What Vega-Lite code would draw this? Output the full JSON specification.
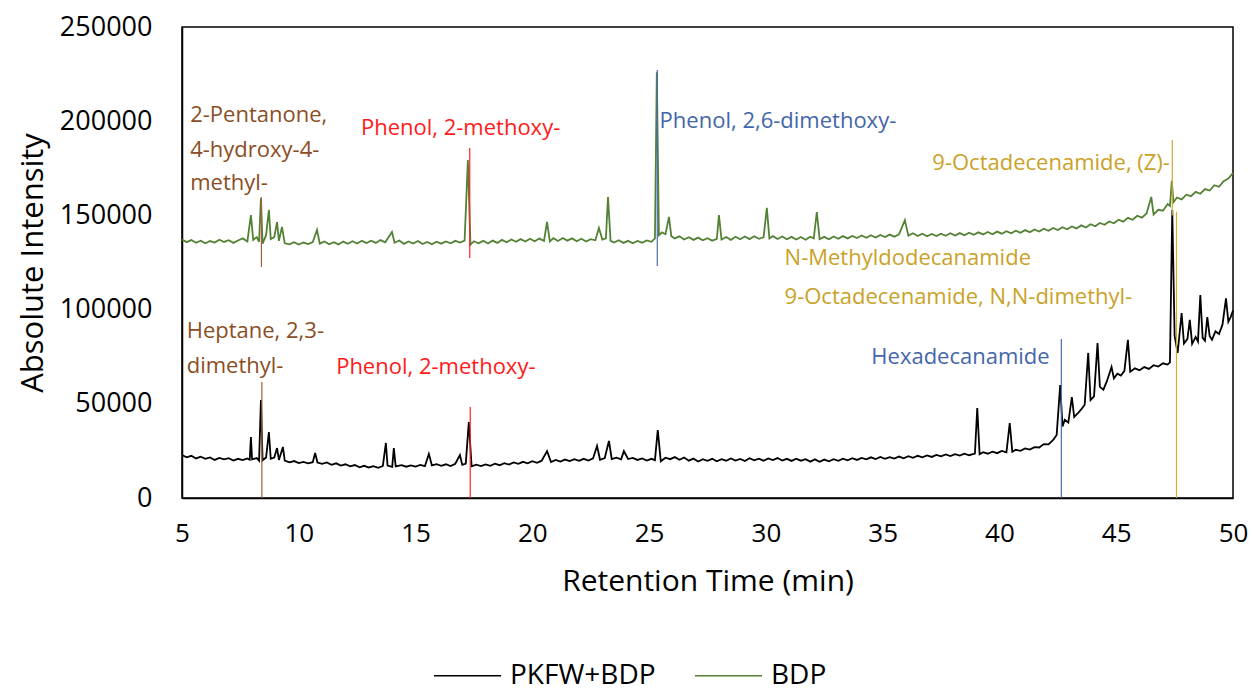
{
  "$schema": "https://vega.github.io/schema/vega-lite/v6.json",
  "width": 1051,
  "height": 471,
  "autosize": {"type": "none"},
  "padding": {"left": 182, "top": 27, "right": 19, "bottom": 195},
  "background": "white",
  "config": {
    "font": "Open Sans",
    "view": {"stroke": "#000000", "strokeWidth": 1.5},
    "axis": {"grid": false, "ticks": false, "domainColor": "#000000", "domainWidth": 1.5, "labelColor": "#000000", "titleColor": "#000000", "labelFont": "Open Sans", "titleFont": "Open Sans", "titleFontWeight": "normal"},
    "legend": {"labelFont": "Open Sans", "labelFontSize": 28, "labelColor": "#000000"}
  },
  "datasets": {
    "pk": [
      {"x":5.0,"y":22800},{"x":5.2,"y":21600},{"x":5.4,"y":22400},{"x":5.6,"y":21000},{"x":5.8,"y":21900},{"x":6.0,"y":20800},{"x":6.2,"y":21500},{"x":6.4,"y":20200},{"x":6.6,"y":21300},{"x":6.8,"y":20500},
      {"x":7.0,"y":21100},{"x":7.2,"y":19900},{"x":7.4,"y":20800},{"x":7.6,"y":20100},{"x":7.8,"y":21000},{"x":7.9,"y":20300},{"x":7.95,"y":32400},{"x":8.0,"y":20500},{"x":8.2,"y":21200},{"x":8.3,"y":19800},
      {"x":8.38,"y":52000},{"x":8.45,"y":20000},{"x":8.6,"y":21500},{"x":8.72,"y":35000},{"x":8.8,"y":20800},{"x":8.95,"y":21500},{"x":9.07,"y":26500},{"x":9.15,"y":20200},{"x":9.32,"y":27100},{"x":9.4,"y":19800},
      {"x":9.6,"y":18900},{"x":9.8,"y":19600},{"x":10.0,"y":18500},{"x":10.2,"y":19200},{"x":10.4,"y":18400},{"x":10.6,"y":19000},{"x":10.7,"y":23900},{"x":10.8,"y":18800},{"x":11.0,"y":18100},{"x":11.2,"y":18900},
      {"x":11.4,"y":17600},{"x":11.6,"y":18400},{"x":11.8,"y":17200},{"x":12.0,"y":17900},{"x":12.2,"y":16800},{"x":12.4,"y":17500},{"x":12.6,"y":16300},{"x":12.8,"y":17100},{"x":13.0,"y":16200},{"x":13.2,"y":16900},
      {"x":13.4,"y":16000},{"x":13.6,"y":17000},{"x":13.73,"y":29200},{"x":13.8,"y":17200},{"x":14.0,"y":16500},{"x":14.07,"y":26500},{"x":14.15,"y":16800},{"x":14.4,"y":17400},{"x":14.6,"y":16600},{"x":14.8,"y":17300},
      {"x":15.0,"y":16700},{"x":15.2,"y":17600},{"x":15.4,"y":16900},{"x":15.57,"y":23400},{"x":15.7,"y":17300},{"x":15.9,"y":18000},{"x":16.1,"y":17100},{"x":16.3,"y":17900},{"x":16.5,"y":17000},{"x":16.7,"y":18200},
      {"x":16.9,"y":22800},{"x":17.0,"y":17600},{"x":17.15,"y":18300},{"x":17.28,"y":40300},{"x":17.4,"y":16800},{"x":17.6,"y":17700},{"x":17.8,"y":16900},{"x":18.0,"y":17800},{"x":18.2,"y":17100},{"x":18.4,"y":18200},
      {"x":18.6,"y":17400},{"x":18.8,"y":18500},{"x":19.0,"y":17700},{"x":19.2,"y":18900},{"x":19.4,"y":18100},{"x":19.6,"y":19200},{"x":19.8,"y":18400},{"x":20.0,"y":19500},{"x":20.2,"y":18700},{"x":20.4,"y":19800},
      {"x":20.63,"y":24900},{"x":20.8,"y":19100},{"x":21.0,"y":20200},{"x":21.2,"y":19300},{"x":21.4,"y":20400},{"x":21.6,"y":19600},{"x":21.8,"y":20600},{"x":22.0,"y":19700},{"x":22.2,"y":20800},{"x":22.4,"y":19900},
      {"x":22.6,"y":21000},{"x":22.77,"y":27600},{"x":22.9,"y":20300},{"x":23.1,"y":21200},{"x":23.28,"y":30300},{"x":23.4,"y":20600},{"x":23.6,"y":21400},{"x":23.8,"y":20500},{"x":23.92,"y":24900},{"x":24.1,"y":20700},
      {"x":24.3,"y":21300},{"x":24.5,"y":20200},{"x":24.7,"y":21000},{"x":24.9,"y":19900},{"x":25.1,"y":20800},{"x":25.25,"y":20100},{"x":25.37,"y":36100},{"x":25.5,"y":19500},{"x":25.7,"y":21400},{"x":25.9,"y":20600},
      {"x":26.1,"y":21700},{"x":26.3,"y":20300},{"x":26.5,"y":21500},{"x":26.7,"y":19800},{"x":26.9,"y":20900},{"x":27.1,"y":19400},{"x":27.3,"y":20600},{"x":27.5,"y":19700},{"x":27.7,"y":20800},{"x":27.9,"y":19500},
      {"x":28.1,"y":20600},{"x":28.3,"y":19800},{"x":28.5,"y":21000},{"x":28.7,"y":19900},{"x":28.9,"y":20700},{"x":29.1,"y":19600},{"x":29.3,"y":21100},{"x":29.5,"y":20000},{"x":29.7,"y":20900},{"x":29.9,"y":19800},
      {"x":30.1,"y":21000},{"x":30.3,"y":20100},{"x":30.5,"y":21200},{"x":30.7,"y":19900},{"x":30.9,"y":20800},{"x":31.1,"y":19700},{"x":31.3,"y":20900},{"x":31.5,"y":19800},{"x":31.7,"y":20600},{"x":31.9,"y":19300},
      {"x":32.1,"y":20500},{"x":32.3,"y":19200},{"x":32.5,"y":20400},{"x":32.7,"y":19500},{"x":32.9,"y":20600},{"x":33.1,"y":19700},{"x":33.3,"y":20900},{"x":33.5,"y":20000},{"x":33.7,"y":21100},{"x":33.9,"y":20200},
      {"x":34.1,"y":21300},{"x":34.3,"y":20500},{"x":34.5,"y":21600},{"x":34.7,"y":20700},{"x":34.9,"y":21800},{"x":35.1,"y":20800},{"x":35.3,"y":21700},{"x":35.5,"y":20900},{"x":35.7,"y":22000},{"x":35.9,"y":21100},
      {"x":36.1,"y":22200},{"x":36.3,"y":21300},{"x":36.5,"y":22400},{"x":36.7,"y":21600},{"x":36.9,"y":22600},{"x":37.1,"y":21800},{"x":37.3,"y":22900},{"x":37.5,"y":22100},{"x":37.7,"y":23100},{"x":37.9,"y":22300},
      {"x":38.1,"y":23300},{"x":38.3,"y":22500},{"x":38.5,"y":23500},{"x":38.7,"y":22700},{"x":38.95,"y":23600},{"x":39.05,"y":47800},{"x":39.15,"y":23200},{"x":39.3,"y":24300},{"x":39.5,"y":23500},{"x":39.7,"y":24600},
      {"x":39.9,"y":23800},{"x":40.1,"y":25000},{"x":40.3,"y":24200},{"x":40.44,"y":39800},{"x":40.55,"y":24500},{"x":40.7,"y":25600},{"x":40.9,"y":25000},{"x":41.1,"y":26300},{"x":41.3,"y":25700},{"x":41.5,"y":27000},
      {"x":41.7,"y":26800},{"x":41.9,"y":28600},{"x":42.1,"y":28500},{"x":42.3,"y":30800},{"x":42.45,"y":33500},{"x":42.6,"y":60000},{"x":42.7,"y":38000},{"x":42.8,"y":41500},{"x":42.95,"y":40000},{"x":43.1,"y":53600},
      {"x":43.2,"y":43000},{"x":43.36,"y":45000},{"x":43.5,"y":47000},{"x":43.65,"y":49500},{"x":43.8,"y":77000},{"x":43.9,"y":52000},{"x":44.05,"y":54000},{"x":44.2,"y":82300},{"x":44.3,"y":59000},{"x":44.45,"y":57500},
      {"x":44.6,"y":62000},{"x":44.8,"y":69500},{"x":44.9,"y":63500},{"x":45.05,"y":66000},{"x":45.2,"y":65000},{"x":45.35,"y":67500},{"x":45.5,"y":83900},{"x":45.6,"y":67000},{"x":45.8,"y":68800},{"x":46.0,"y":67800},
      {"x":46.2,"y":69500},{"x":46.4,"y":68500},{"x":46.6,"y":70500},{"x":46.8,"y":69800},{"x":47.0,"y":71500},{"x":47.2,"y":70800},{"x":47.3,"y":72000},{"x":47.4,"y":152900},{"x":47.5,"y":86000},{"x":47.63,"y":77000},
      {"x":47.8,"y":98200},{"x":47.9,"y":82000},{"x":48.05,"y":84500},{"x":48.15,"y":94500},{"x":48.25,"y":81800},{"x":48.4,"y":85500},{"x":48.5,"y":83000},{"x":48.6,"y":107700},{"x":48.7,"y":85000},{"x":48.8,"y":83500},
      {"x":48.9,"y":96000},{"x":49.0,"y":86000},{"x":49.1,"y":84000},{"x":49.25,"y":88500},{"x":49.4,"y":87000},{"x":49.55,"y":92000},{"x":49.7,"y":106000},{"x":49.8,"y":93500},{"x":49.9,"y":96000},{"x":50.0,"y":99500}
    ],
    "bdp": [
      {"x":5.0,"y":137200},{"x":5.2,"y":135800},{"x":5.4,"y":136900},{"x":5.6,"y":135500},{"x":5.8,"y":136600},{"x":6.0,"y":135200},{"x":6.2,"y":136400},{"x":6.4,"y":135600},{"x":6.6,"y":137100},{"x":6.8,"y":135900},
      {"x":7.0,"y":136800},{"x":7.2,"y":135400},{"x":7.4,"y":136700},{"x":7.6,"y":137800},{"x":7.8,"y":136200},{"x":7.95,"y":150200},{"x":8.05,"y":137000},{"x":8.2,"y":138500},{"x":8.3,"y":136000},{"x":8.38,"y":159200},
      {"x":8.45,"y":135000},{"x":8.6,"y":139500},{"x":8.72,"y":152900},{"x":8.8,"y":137500},{"x":8.95,"y":138500},{"x":9.07,"y":146500},{"x":9.15,"y":136500},{"x":9.28,"y":143900},{"x":9.4,"y":135200},{"x":9.6,"y":134600},
      {"x":9.8,"y":135800},{"x":10.0,"y":134500},{"x":10.2,"y":135600},{"x":10.4,"y":134800},{"x":10.6,"y":135900},{"x":10.78,"y":142300},{"x":10.9,"y":135000},{"x":11.1,"y":136200},{"x":11.3,"y":134700},{"x":11.5,"y":135800},
      {"x":11.7,"y":134600},{"x":11.9,"y":136100},{"x":12.1,"y":134900},{"x":12.3,"y":136300},{"x":12.5,"y":135100},{"x":12.7,"y":136500},{"x":12.9,"y":135300},{"x":13.1,"y":136600},{"x":13.3,"y":135400},{"x":13.5,"y":136900},
      {"x":13.7,"y":135700},{"x":13.99,"y":141200},{"x":14.1,"y":135500},{"x":14.3,"y":136700},{"x":14.5,"y":134900},{"x":14.7,"y":136200},{"x":14.9,"y":135100},{"x":15.1,"y":136400},{"x":15.3,"y":134800},{"x":15.5,"y":135900},
      {"x":15.7,"y":134700},{"x":15.9,"y":136000},{"x":16.1,"y":135000},{"x":16.3,"y":136200},{"x":16.5,"y":135200},{"x":16.7,"y":136500},{"x":16.9,"y":135600},{"x":17.1,"y":136600},{"x":17.24,"y":179400},{"x":17.35,"y":134500},
      {"x":17.5,"y":136300},{"x":17.7,"y":135200},{"x":17.9,"y":136500},{"x":18.1,"y":135100},{"x":18.3,"y":136600},{"x":18.5,"y":135400},{"x":18.7,"y":137000},{"x":18.9,"y":135700},{"x":19.1,"y":137200},{"x":19.3,"y":136000},
      {"x":19.5,"y":137400},{"x":19.7,"y":136100},{"x":19.9,"y":137600},{"x":20.1,"y":136300},{"x":20.3,"y":137700},{"x":20.5,"y":136500},{"x":20.63,"y":146500},{"x":20.75,"y":136200},{"x":20.9,"y":137900},{"x":21.1,"y":136400},
      {"x":21.3,"y":138000},{"x":21.5,"y":136600},{"x":21.7,"y":137800},{"x":21.9,"y":136300},{"x":22.1,"y":137600},{"x":22.3,"y":136100},{"x":22.5,"y":137400},{"x":22.7,"y":136800},{"x":22.85,"y":143300},{"x":23.0,"y":137200},
      {"x":23.15,"y":137800},{"x":23.24,"y":159800},{"x":23.35,"y":136500},{"x":23.5,"y":135600},{"x":23.7,"y":136800},{"x":23.9,"y":135400},{"x":24.1,"y":136500},{"x":24.3,"y":135200},{"x":24.5,"y":136400},{"x":24.7,"y":135500},
      {"x":24.9,"y":136700},{"x":25.1,"y":136000},{"x":25.25,"y":137800},{"x":25.33,"y":226000},{"x":25.42,"y":139500},{"x":25.55,"y":141000},{"x":25.7,"y":140000},{"x":25.85,"y":149200},{"x":25.95,"y":139000},{"x":26.1,"y":137800},
      {"x":26.3,"y":138900},{"x":26.5,"y":137200},{"x":26.7,"y":138400},{"x":26.9,"y":137000},{"x":27.1,"y":138200},{"x":27.3,"y":136800},{"x":27.5,"y":137900},{"x":27.7,"y":136600},{"x":27.9,"y":137500},{"x":27.99,"y":150200},
      {"x":28.1,"y":137200},{"x":28.3,"y":138500},{"x":28.5,"y":137000},{"x":28.7,"y":138700},{"x":28.9,"y":137300},{"x":29.1,"y":138800},{"x":29.3,"y":137400},{"x":29.5,"y":138900},{"x":29.7,"y":137600},{"x":29.9,"y":138400},
      {"x":30.04,"y":154000},{"x":30.15,"y":137800},{"x":30.3,"y":139000},{"x":30.5,"y":137500},{"x":30.7,"y":138800},{"x":30.9,"y":137300},{"x":31.1,"y":138600},{"x":31.3,"y":137200},{"x":31.5,"y":138500},{"x":31.7,"y":137100},
      {"x":31.9,"y":138700},{"x":32.05,"y":137800},{"x":32.18,"y":151800},{"x":32.3,"y":137400},{"x":32.5,"y":138600},{"x":32.7,"y":137300},{"x":32.9,"y":138800},{"x":33.1,"y":137600},{"x":33.3,"y":139000},{"x":33.5,"y":137800},
      {"x":33.7,"y":139100},{"x":33.9,"y":138000},{"x":34.1,"y":139300},{"x":34.3,"y":138100},{"x":34.5,"y":139500},{"x":34.7,"y":138300},{"x":34.9,"y":139600},{"x":35.1,"y":138500},{"x":35.3,"y":139800},{"x":35.5,"y":138700},
      {"x":35.7,"y":140000},{"x":35.95,"y":147500},{"x":36.1,"y":139200},{"x":36.3,"y":140500},{"x":36.5,"y":139100},{"x":36.7,"y":140300},{"x":36.9,"y":138900},{"x":37.1,"y":140100},{"x":37.3,"y":139000},{"x":37.5,"y":140300},
      {"x":37.7,"y":139200},{"x":37.9,"y":140500},{"x":38.1,"y":139300},{"x":38.3,"y":140600},{"x":38.5,"y":139500},{"x":38.7,"y":140800},{"x":38.9,"y":139700},{"x":39.1,"y":141000},{"x":39.3,"y":139900},{"x":39.5,"y":141200},
      {"x":39.7,"y":140000},{"x":39.9,"y":141400},{"x":40.1,"y":140300},{"x":40.3,"y":141600},{"x":40.5,"y":140500},{"x":40.7,"y":141900},{"x":40.9,"y":140800},{"x":41.1,"y":142200},{"x":41.3,"y":141100},{"x":41.5,"y":142500},
      {"x":41.7,"y":141400},{"x":41.9,"y":142900},{"x":42.1,"y":141800},{"x":42.3,"y":143300},{"x":42.5,"y":142200},{"x":42.7,"y":143700},{"x":42.9,"y":142600},{"x":43.1,"y":144100},{"x":43.3,"y":143100},{"x":43.5,"y":144700},
      {"x":43.7,"y":143600},{"x":43.9,"y":145300},{"x":44.1,"y":144200},{"x":44.3,"y":146000},{"x":44.5,"y":145000},{"x":44.7,"y":146800},{"x":44.9,"y":145800},{"x":45.1,"y":147700},{"x":45.3,"y":146700},{"x":45.5,"y":148700},
      {"x":45.7,"y":147700},{"x":45.9,"y":149800},{"x":46.1,"y":148800},{"x":46.3,"y":151000},{"x":46.5,"y":159800},{"x":46.6,"y":150500},{"x":46.8,"y":153000},{"x":47.0,"y":152500},{"x":47.2,"y":156000},{"x":47.3,"y":155000},
      {"x":47.38,"y":168300},{"x":47.45,"y":157000},{"x":47.6,"y":159500},{"x":47.8,"y":158500},{"x":48.0,"y":161000},{"x":48.2,"y":160200},{"x":48.4,"y":162500},{"x":48.6,"y":161500},{"x":48.8,"y":164000},{"x":49.0,"y":163200},
      {"x":49.2,"y":166000},{"x":49.4,"y":165200},{"x":49.6,"y":168200},{"x":49.8,"y":169500},{"x":50.0,"y":172500}
    ],
    "marks": [
      {"x":8.4,"y1":122600,"y2":159700,"c":"#A0623A"},
      {"x":17.32,"y1":127400,"y2":185800,"c":"#FF2020"},
      {"x":25.35,"y1":123100,"y2":227200,"c":"#4A6CB0"},
      {"x":47.4,"y1":150000,"y2":190000,"c":"#D4A937"},
      {"x":8.42,"y1":0,"y2":61600,"c":"#A0623A"},
      {"x":17.34,"y1":0,"y2":48300,"c":"#FF2020"},
      {"x":42.65,"y1":0,"y2":84400,"c":"#4A6CB0"},
      {"x":47.58,"y1":0,"y2":152000,"c":"#D4A937"}
    ],
    "labelsLeft": [
      {"x":5.35,"y":203300,"t":"2-Pentanone,","c":"#8B4E24"},
      {"x":5.35,"y":184700,"t":"4-hydroxy-4-","c":"#8B4E24"},
      {"x":5.35,"y":167200,"t":"methyl-","c":"#8B4E24"},
      {"x":12.66,"y":196400,"t":"Phenol, 2-methoxy-","c":"#FF1A1A"},
      {"x":25.45,"y":200100,"t":"Phenol, 2,6-dimethoxy-","c":"#4466AA"},
      {"x":30.8,"y":127400,"t":"N-Methyldodecanamide","c":"#C9A227"},
      {"x":30.8,"y":106700,"t":"9-Octadecenamide, N,N-dimethyl-","c":"#C9A227"},
      {"x":5.2,"y":88600,"t":"Heptane, 2,3-","c":"#8B4E24"},
      {"x":5.2,"y":70000,"t":"dimethyl-","c":"#8B4E24"},
      {"x":11.6,"y":69500,"t":"Phenol, 2-methoxy-","c":"#FF1A1A"}
    ],
    "labelsRight": [
      {"x":47.3,"y":177800,"t":"9-Octadecenamide, (Z)-","c":"#C9A227"},
      {"x":42.15,"y":74800,"t":"Hexadecanamide","c":"#4466AA"}
    ]
  },
  "layer": [
    {
      "data": {"name": "pk"},
      "mark": {"type": "line", "strokeWidth": 1.8, "interpolate": "linear"},
      "encoding": {
        "x": {"field": "x", "type": "quantitative", "scale": {"domain": [5, 50], "nice": false}, "axis": {"values": [5,10,15,20,25,30,35,40,45,50], "labelFlush": false, "title": "Retention Time (min)", "labelFontSize": 26, "titleFontSize": 30, "labelPadding": 22, "titlePadding": 20}},
        "y": {"field": "y", "type": "quantitative", "scale": {"domain": [0, 250000], "nice": false}, "axis": {"values": [0,50000,100000,150000,200000,250000], "format": "d", "title": "Absolute Intensity", "labelFontSize": 27, "titleFontSize": 31, "labelPadding": 30, "titlePadding": 10}},
        "color": {"datum": "PKFW+BDP", "type": "nominal", "title": null, "scale": {"domain": ["PKFW+BDP", "BDP"], "range": ["#000000", "#548235"]},
          "legend": {"title": null, "orient": "none", "direction": "horizontal", "legendX": 251, "legendY": 614, "symbolType": "stroke", "symbolSize": 4489, "symbolStrokeWidth": 1.5, "labelOffset": 8, "columnPadding": 36, "padding": 0}}
      }
    },
    {
      "data": {"name": "bdp"},
      "mark": {"type": "line", "strokeWidth": 1.8, "interpolate": "linear"},
      "encoding": {
        "x": {"field": "x", "type": "quantitative"},
        "y": {"field": "y", "type": "quantitative"},
        "color": {"datum": "BDP", "type": "nominal", "title": null}
      }
    },
    {
      "data": {"name": "marks"},
      "mark": {"type": "rule", "strokeWidth": 1.2},
      "encoding": {
        "x": {"field": "x", "type": "quantitative"},
        "y": {"field": "y1", "type": "quantitative"},
        "y2": {"field": "y2"},
        "stroke": {"field": "c", "type": "nominal", "scale": null, "legend": null}
      }
    },
    {
      "data": {"name": "labelsLeft"},
      "mark": {"type": "text", "align": "left", "baseline": "middle", "fontSize": 22, "font": "Open Sans"},
      "encoding": {
        "x": {"field": "x", "type": "quantitative"},
        "y": {"field": "y", "type": "quantitative"},
        "text": {"field": "t"},
        "fill": {"field": "c", "type": "nominal", "scale": null, "legend": null}
      }
    },
    {
      "data": {"name": "labelsRight"},
      "mark": {"type": "text", "align": "right", "baseline": "middle", "fontSize": 22, "font": "Open Sans"},
      "encoding": {
        "x": {"field": "x", "type": "quantitative"},
        "y": {"field": "y", "type": "quantitative"},
        "text": {"field": "t"},
        "fill": {"field": "c", "type": "nominal", "scale": null, "legend": null}
      }
    }
  ]
}
